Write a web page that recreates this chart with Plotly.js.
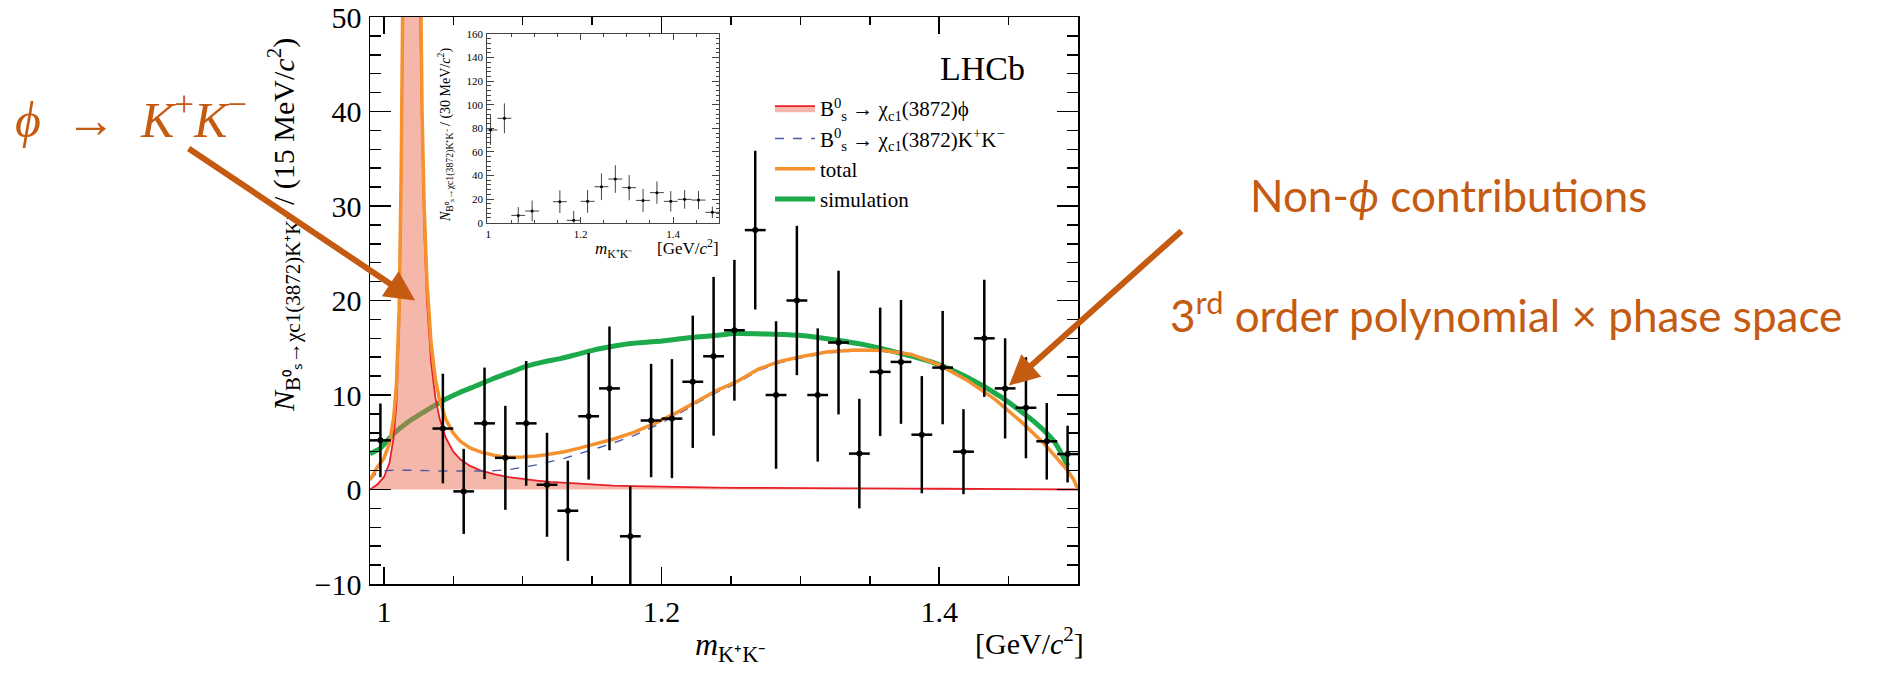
<!DOCTYPE html>
<html><head><meta charset="utf-8">
<script src="https://cdn.plot.ly/plotly-3.0.1.min.js"></script>
<style>html,body{margin:0;padding:0;background:#fff;}#chart{width:1888px;height:676px;}</style>
</head><body><div id="chart"></div>
<script>
// ---- main histogram (15 MeV bins) ----
const binCenters = [0.9975,1.0125,1.0275,1.0425,1.0575,1.0725,1.0875,1.1025,1.1175,1.1325,1.1475,1.1625,1.1775,1.1925,1.2075,1.2225,1.2375,1.2525,1.2675,1.2825,1.2975,1.3125,1.3275,1.3425,1.3575,1.3725,1.3875,1.4025,1.4175,1.4325,1.4475,1.4625,1.4775,1.4925];
const yields = [5.2,74,83,6.45,-0.2,7.0,3.35,7.0,0.5,-2.25,7.75,10.7,-4.95,7.3,7.5,11.4,14.1,16.85,27.45,10.0,20.0,10.0,15.55,3.8,12.45,13.5,5.8,12.9,4.0,16.0,10.7,8.65,5.1,3.75];
const yieldErrors = [3.9,10,10,5.8,4.5,5.9,5.5,6.6,5.5,5.3,6.7,6.55,5.3,6.0,6.3,7.0,8.4,7.45,8.4,7.8,7.9,7.05,7.6,5.8,6.8,6.55,6.2,6.0,4.5,6.2,5.3,5.35,4.05,3.0];
const binHalfWidth = 0.0075;

// ---- fit components ----
const curveMass = [0.990,0.995,1.000,1.004,1.007,1.009,1.011,1.0125,1.0136,1.015,1.0175,1.0195,1.0215,1.024,1.0262,1.0275,1.029,1.031,1.034,1.037,1.040,1.0445,1.050,1.055,1.062,1.070,1.080,1.090,1.100,1.110,1.120,1.130,1.140,1.150,1.165,1.180,1.195,1.210,1.225,1.240,1.255,1.270,1.285,1.300,1.320,1.340,1.360,1.380,1.400,1.420,1.440,1.460,1.475,1.485,1.492,1.497,1.500];
const phiComponent = [0,0.5,1.3,2.8,5.5,9,17,32,50,80,150,180,150,85,50,38,28,20,13.5,9.8,7.6,5.5,4.0,3.2,2.5,2.0,1.6,1.3,1.1,0.95,0.8,0.7,0.6,0.5,0.42,0.35,0.3,0.26,0.22,0.2,0.18,0.16,0.15,0.14,0.12,0.11,0.1,0.09,0.08,0.07,0.06,0.05,0.04,0.03,0.02,0.01,0];
const nonPhiComponent = [1.0,1.8,2.0,2.05,2.05,2.05,2.05,2.05,2.05,2.05,2.05,2.05,2.05,2.0,2.0,2.0,2.0,2.0,2.0,1.95,1.95,1.95,1.95,1.9,1.9,1.95,2.0,2.1,2.35,2.6,2.95,3.3,3.75,4.2,4.9,5.7,6.7,7.8,9.1,10.3,11.3,12.6,13.4,13.9,14.45,14.65,14.6,14.2,13.1,11.5,9.5,7.0,4.9,3.3,2.1,1.0,0];
const totalFit = [1.0,2.3,3.3,4.85,7.55,11.05,19.05,34.05,52.05,82.05,152.05,182.05,152.05,87,52,40,30,22,15.5,11.75,9.55,7.45,5.95,5.1,4.4,3.95,3.6,3.4,3.45,3.55,3.75,4.0,4.35,4.7,5.32,6.05,7.0,8.06,9.32,10.5,11.48,12.76,13.55,14.04,14.57,14.76,14.7,14.29,13.18,11.57,9.56,7.05,4.94,3.33,2.12,1.01,0];

// ---- simulation ----
const simMass = [0.990,0.997,1.007,1.019,1.031,1.043,1.055,1.067,1.079,1.091,1.103,1.115,1.127,1.139,1.151,1.163,1.175,1.187,1.199,1.211,1.223,1.2425,1.2521,1.2762,1.3002,1.3243,1.3484,1.3724,1.3964,1.4205,1.4445,1.4686,1.483,1.4927];
const simYield = [3.8,4.3,5.9,7.3,8.4,9.45,10.3,11.0,11.75,12.4,13.05,13.5,13.85,14.3,14.75,15.1,15.4,15.55,15.7,15.9,16.1,16.35,16.5,16.45,16.3,15.85,15.25,14.4,13.4,11.85,9.8,7.15,5.05,2.5];

// ---- inset (30 MeV bins) ----
const insetCenters = [1.005,1.035,1.065,1.095,1.155,1.185,1.215,1.245,1.275,1.305,1.335,1.365,1.395,1.425,1.455,1.485];
const insetYields = [78.6,88.5,6.2,9.9,17.8,2.0,18.1,30.5,37.0,29.7,18.9,25.5,18.1,19.8,19.2,8.8];
const insetErrors = [12.6,12.7,7.0,8.9,9.6,8.0,9.6,11.3,11.7,10.7,9.8,9.5,8.7,7.9,7.6,4.9];
const insetHalfWidth = 0.015;

const xTickLabels = ['1','1.2','1.4'];

// geometry helpers (plot area in page pixels)
const L = 370, R = 1078, T = 17, B = 584;
const px = v => (v - L) / (R - L);
const py = v => (B - v) / (B - T);

const ORANGE_TXT = '#C55A11';
const SERIF = 'Liberation Serif, Times New Roman, serif';
const NB = '\u00a0';

const traces = [
  {x: simMass, y: simYield, type: 'scatter', mode: 'lines', name: 'simulation',
   line: {color: '#1DAA4A', width: 5, shape: 'spline', smoothing: 0.6}, legendrank: 4, hoverinfo: 'skip'},
  {x: curveMass, y: phiComponent, type: 'scatter', mode: 'lines', fill: 'tozeroy',
   fillcolor: 'rgba(236,112,84,0.5)', line: {color: '#E8202A', width: 1.8},
   name: 'B<sup>0</sup><sub>s</sub> → χ<sub>c1</sub>(3872)ϕ', legendrank: 1, hoverinfo: 'skip'},
  {x: curveMass, y: nonPhiComponent, type: 'scatter', mode: 'lines',
   line: {color: '#4B5BA6', width: 1.4, dash: 'dash'},
   name: 'B<sup>0</sup><sub>s</sub> → χ<sub>c1</sub>(3872)K<sup>+</sup>K<sup>−</sup>', legendrank: 2, hoverinfo: 'skip'},
  {x: curveMass, y: totalFit, type: 'scatter', mode: 'lines',
   line: {color: '#F5922F', width: 3.5}, name: 'total', legendrank: 3, hoverinfo: 'skip'},
  {x: binCenters, y: yields, type: 'scatter', mode: 'markers', showlegend: false,
   marker: {color: 'black', size: 6},
   error_y: {type: 'data', array: yieldErrors, visible: true, color: 'black', thickness: 2.5, width: 0},
   error_x: {type: 'constant', value: binHalfWidth, visible: true, color: 'black', thickness: 2.5, width: 0}},
  {x: insetCenters, y: insetYields, type: 'scatter', mode: 'markers', showlegend: false,
   xaxis: 'x2', yaxis: 'y2', marker: {color: 'black', size: 3},
   error_y: {type: 'data', array: insetErrors, visible: true, color: '#444', thickness: 1, width: 0},
   error_x: {type: 'constant', value: insetHalfWidth, visible: true, color: '#444', thickness: 1, width: 0}}
];

const axBase = {showgrid: false, zeroline: false, showline: true, linecolor: 'black', linewidth: 1.5,
  mirror: 'allticks', ticks: 'inside', tickcolor: 'black', tickwidth: 1.5};

const layout = {
  width: 1888, height: 676,
  margin: {l: L, r: 1888 - R, t: T, b: 676 - B, pad: 0},
  paper_bgcolor: 'white', plot_bgcolor: 'white',
  font: {family: SERIF, color: 'black'},
  showlegend: true,
  legend: {x: px(770), y: py(88), xanchor: 'left', yanchor: 'top', bgcolor: 'rgba(0,0,0,0)',
    font: {size: 21, family: SERIF}, itemwidth: 40, tracegroupgap: 0, traceorder: 'normal'},
  xaxis: Object.assign({}, axBase, {range: [0.99, 1.5], tickmode: 'array', tickvals: [1, 1.2, 1.4], ticktext: xTickLabels,
    ticklen: 17, minor: {dtick: 0.05, tick0: 1, ticklen: 8, ticks: 'inside', tickwidth: 1.5, tickcolor: 'black'},
    tickfont: {size: 30, family: SERIF}, ticklabelstandoff: 0}),
  yaxis: Object.assign({}, axBase, {range: [-10, 50], tick0: 0, dtick: 10, ticklen: 21,
    minor: {dtick: 2, tick0: 0, ticklen: 11, ticks: 'inside', tickwidth: 1.5, tickcolor: 'black'},
    tickfont: {size: 30, family: SERIF}, ticklabelstandoff: 1}),
  xaxis2: Object.assign({}, axBase, {domain: [px(487.3), px(719.3)], anchor: 'y2', range: [0.998, 1.5],
    linecolor: '#444', linewidth: 1, tickcolor: '#444', tickwidth: 1,
    tickmode: 'array', tickvals: [1, 1.2, 1.4], ticktext: xTickLabels, ticklen: 6,
    minor: {dtick: 0.05, tick0: 1, ticklen: 3, ticks: 'inside', tickwidth: 1, tickcolor: '#444'},
    tickfont: {size: 11, family: SERIF}, ticklabelstandoff: 1}),
  yaxis2: Object.assign({}, axBase, {domain: [py(222.7), py(34)], anchor: 'x2', range: [0, 160],
    linecolor: '#444', linewidth: 1, tickcolor: '#444', tickwidth: 1,
    tick0: 0, dtick: 20, ticklen: 7,
    minor: {dtick: 4, tick0: 0, ticklen: 3.5, ticks: 'inside', tickwidth: 1, tickcolor: '#444'},
    tickfont: {size: 11, family: SERIF}, ticklabelstandoff: 1}),
  annotations: [
    {xref: 'paper', yref: 'paper', x: px(1027), y: py(68), xanchor: 'right', yanchor: 'middle',
     text: 'LHCb', showarrow: false, font: {size: 34, family: SERIF}},
    {xref: 'paper', yref: 'paper', x: px(730), y: py(646), xanchor: 'center', yanchor: 'middle',
     text: '<i>m</i><sub>K⁺K⁻</sub>', showarrow: false, font: {size: 32, family: SERIF}},
    {xref: 'paper', yref: 'paper', x: px(1086), y: py(641), xanchor: 'right', yanchor: 'middle',
     text: '[GeV/<i>c</i><sup>2</sup>]', showarrow: false, font: {size: 30, family: SERIF}},
    {xref: 'paper', yref: 'paper', x: px(283), y: py(225), xanchor: 'center', yanchor: 'middle', textangle: -90,
     text: '<i>N</i><sub>B⁰ₛ→χc1(3872)K⁺K⁻</sub> / (15 MeV/<i>c</i><sup>2</sup>)', showarrow: false,
     font: {size: 30, family: SERIF}},
    {xref: 'paper', yref: 'paper', x: px(445), y: py(135), xanchor: 'center', yanchor: 'middle', textangle: -90,
     text: '<i>N</i><sub>B⁰ₛ→χc1(3872)K⁺K⁻</sub> / (30 MeV/<i>c</i><sup>2</sup>)', showarrow: false,
     font: {size: 14, family: SERIF}},
    {xref: 'paper', yref: 'paper', x: px(613), y: py(250), xanchor: 'center', yanchor: 'middle',
     text: '<i>m</i><sub>K⁺K⁻</sub>', showarrow: false, font: {size: 17, family: SERIF}},
    {xref: 'paper', yref: 'paper', x: px(721), y: py(247), xanchor: 'right', yanchor: 'middle',
     text: '[GeV/<i>c</i><sup>2</sup>]', showarrow: false, font: {size: 17, family: SERIF}},
    {xref: 'paper', yref: 'paper', x: px(131), y: py(116), xanchor: 'center', yanchor: 'middle',
     text: '<i>ϕ</i>' + NB + NB + '→' + NB + NB + '<i>K</i><sup>+</sup><i>K</i><sup>−</sup>', showarrow: false,
     font: {size: 50, family: SERIF, color: ORANGE_TXT}},
    {xref: 'paper', yref: 'paper', x: px(1448), y: py(195), xanchor: 'center', yanchor: 'middle',
     text: 'Non-<i>ϕ</i> contributions', showarrow: false, font: {size: 44, family: 'Lato', color: ORANGE_TXT}},
    {xref: 'paper', yref: 'paper', x: px(1506), y: py(312), xanchor: 'center', yanchor: 'middle',
     text: '3<sup>rd</sup> order polynomial × phase space', showarrow: false, font: {size: 44, family: 'Lato', color: ORANGE_TXT}},
    {xref: 'x', yref: 'y', x: 1.0225, y: 20.0, ax: -228, ay: -153, text: '', showarrow: true,
     arrowhead: 2, arrowsize: 1, arrowwidth: 6, arrowcolor: ORANGE_TXT, standoff: 0},
    {xref: 'x', yref: 'y', x: 1.4503, y: 11.0, ax: 174, ay: -156, text: '', showarrow: true,
     arrowhead: 2, arrowsize: 1, arrowwidth: 6, arrowcolor: ORANGE_TXT, standoff: 0}
  ]
};

Plotly.newPlot('chart', traces, layout, {staticPlot: true, displayModeBar: false});
</script>
</body></html>
